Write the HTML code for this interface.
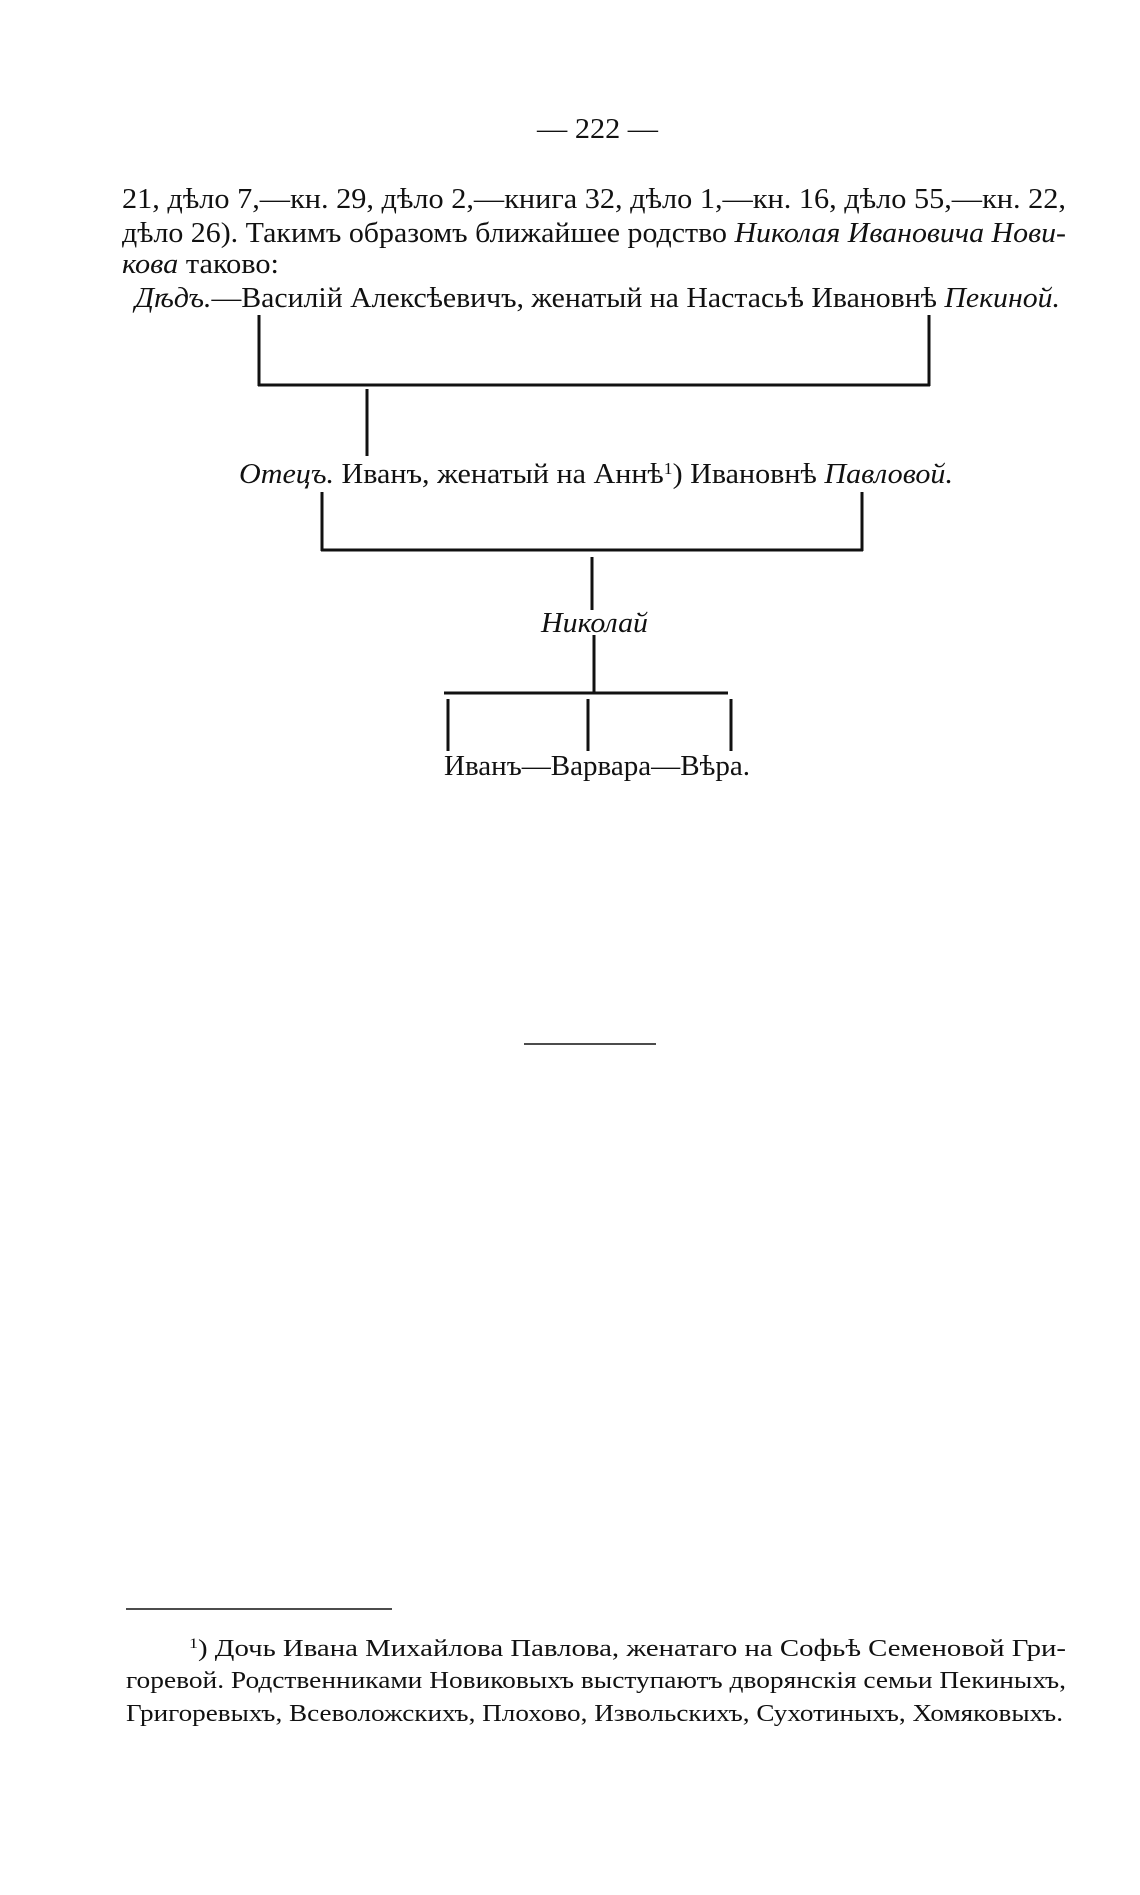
<!DOCTYPE html>
<html><head><meta charset="utf-8"><style>
html,body{margin:0;padding:0;background:#fff}
svg{display:block}
text{font-family:"Liberation Serif","DejaVu Serif",serif;fill:#111}
.b{font-size:29px}
.f{font-size:24px}
.i{font-style:italic}
</style></head><body>
<svg width="1140" height="1895" viewBox="0 0 1140 1895" xmlns="http://www.w3.org/2000/svg">
<text class="b" x="537" y="138" textLength="121" lengthAdjust="spacingAndGlyphs">— 222 —</text>
<text class="b" x="122" y="208" textLength="944" lengthAdjust="spacingAndGlyphs">21, дѣло 7,—кн. 29, дѣло 2,—книга 32, дѣло 1,—кн. 16, дѣло 55,—кн. 22,</text>
<text class="b" x="122" y="242" textLength="944" lengthAdjust="spacingAndGlyphs">дѣло 26). Такимъ образомъ ближайшее родство <tspan class="i">Николая Ивановича Нови-</tspan></text>
<text class="b" x="122" y="273" textLength="157" lengthAdjust="spacingAndGlyphs"><tspan class="i">кова</tspan> таково:</text>
<text class="b" x="135" y="307" textLength="925" lengthAdjust="spacingAndGlyphs"><tspan class="i">Дѣдъ.</tspan>—Василій Алексѣевичъ, женатый на Настасьѣ Ивановнѣ <tspan class="i">Пекиной.</tspan></text>
<g stroke="#111" stroke-width="3" fill="none">
<line x1="259" y1="315" x2="259" y2="386"/>
<line x1="929" y1="315" x2="929" y2="386"/>
<line x1="258" y1="385" x2="930" y2="385"/>
<line x1="367" y1="389" x2="367" y2="456"/>
<line x1="322" y1="492" x2="322" y2="551"/>
<line x1="862" y1="492" x2="862" y2="551"/>
<line x1="321" y1="550" x2="863" y2="550"/>
<line x1="592" y1="557" x2="592" y2="610"/>
<line x1="594" y1="635" x2="594" y2="694"/>
<line x1="444" y1="693" x2="728" y2="693"/>
<line x1="448" y1="699" x2="448" y2="751"/>
<line x1="588" y1="699" x2="588" y2="751"/>
<line x1="731" y1="699" x2="731" y2="751"/>
</g>
<text class="b" x="239" y="483" textLength="714" lengthAdjust="spacingAndGlyphs"><tspan class="i">Отецъ.</tspan> Иванъ, женатый на Аннѣ<tspan font-size="17" dy="-9">1</tspan><tspan dy="9">) Ивановнѣ </tspan><tspan class="i">Павловой.</tspan></text>
<text class="b i" x="541" y="632" textLength="107" lengthAdjust="spacingAndGlyphs">Николай</text>
<text class="b" x="444" y="775" textLength="306" lengthAdjust="spacingAndGlyphs">Иванъ—Варвара—Вѣра.</text>
<line x1="524" y1="1044" x2="656" y2="1044" stroke="#111" stroke-width="1.5"/>
<line x1="126" y1="1609" x2="392" y2="1609" stroke="#111" stroke-width="1.5"/>
<text class="f" x="189" y="1656" textLength="877" lengthAdjust="spacingAndGlyphs"><tspan font-size="15" dy="-8">1</tspan><tspan dy="8">) Дочь Ивана Михайлова  Павлова, женатаго на Софьѣ Семеновой Гри-</tspan></text>
<text class="f" x="126" y="1688" textLength="940" lengthAdjust="spacingAndGlyphs">горевой. Родственниками Новиковыхъ выступаютъ дворянскія семьи Пекиныхъ,</text>
<text class="f" x="126" y="1721" textLength="937" lengthAdjust="spacingAndGlyphs">Григоревыхъ, Всеволожскихъ, Плохово, Извольскихъ, Сухотиныхъ, Хомяковыхъ.</text>
</svg>
</body></html>
